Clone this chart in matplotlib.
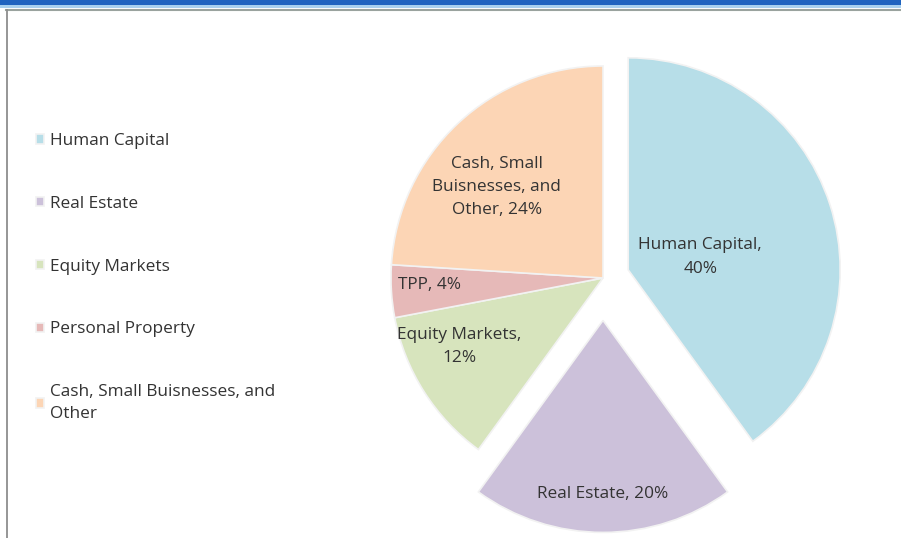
import matplotlib
matplotlib.use("Agg")
import matplotlib.pyplot as plt
from matplotlib.patches import Rectangle
from matplotlib.lines import Line2D
import numpy as np

categories = ["Human Capital", "Real Estate", "Equity Markets", "Personal Property",
              "Cash, Small Buisnesses, and\nOther"]
slice_labels = ["Human Capital,\n40%", "Real Estate, 20%", "Equity Markets,\n12%",
                "TPP, 4%", "Cash, Small\nBuisnesses, and\nOther, 24%"]
values = [40, 20, 12, 4, 24]

colors = ["#B7DEE8", "#CCC1DA", "#D7E4BD", "#E6B9B8", "#FCD5B5"]
explode_frac = [0.125, 0.2, 0, 0, 0]
# label placement: (angle offset from wedge mid-angle in deg, fraction of radius)
label_pos = [(-8, 0.345), (0, 0.82), (-6.8, 0.75), (-1.3, 0.82), (6.2, 0.66)]

W, H = 901, 538
fig = plt.figure(figsize=(W / 100, H / 100), dpi=100)
fig.patch.set_facecolor("white")
ax = fig.add_axes([0, 0, 1, 1])

font = "Open Sans"
fs = 12.4
tcol = "#333333"
cx, cy, R = 603, H - 278, 212
wedges, _ = ax.pie(values, colors=colors, explode=[e * R for e in explode_frac],
                   startangle=90, counterclock=False, center=(cx, cy), radius=R,
                   wedgeprops=dict(edgecolor="#F2F2F2", linewidth=1.2),
                   frame=True)
ax.set_xlim(0, W)
ax.set_ylim(0, H)
ax.set_aspect("equal")
ax.axis("off")

for w, lab, (da, fr) in zip(wedges, slice_labels, label_pos):
    mid = np.deg2rad((w.theta1 + w.theta2) / 2 + da)
    x0, y0 = w.center
    ax.text(x0 + fr * R * np.cos(mid), y0 + fr * R * np.sin(mid), lab,
            ha="center", va="center", fontsize=fs, color=tcol,
            family=font, linespacing=1.62)

leg = ax.legend(wedges, categories, loc="upper left",
                bbox_to_anchor=(29 / W, 1 - 126 / H),
                frameon=False, handlelength=0.48, handleheight=0.48,
                handletextpad=0.35, labelspacing=2.72, borderaxespad=0,
                prop=dict(family=font, size=fs))
for t in leg.get_texts():
    t.set_color(tcol)
    t.set_linespacing(1.5)

# window frame
fig.patches.append(Rectangle((0, 1 - 5 / H), 1, 5 / H, transform=fig.transFigure,
                             facecolor="#1F63BF", edgecolor="none"))
fig.patches.append(Rectangle((0, 1 - 8 / H), 1, 3 / H, transform=fig.transFigure,
                             facecolor="#A8D0EE", edgecolor="none"))
fig.lines.append(Line2D([6 / W, 1], [1 - 9.5 / H, 1 - 9.5 / H], transform=fig.transFigure,
                        color="#9AA39E", linewidth=1.5))
fig.lines.append(Line2D([6.5 / W, 6.5 / W], [0, 1 - 9.5 / H], transform=fig.transFigure,
                        color="#8E8E8E", linewidth=1.3))

fig.savefig("out.png", dpi=100)
